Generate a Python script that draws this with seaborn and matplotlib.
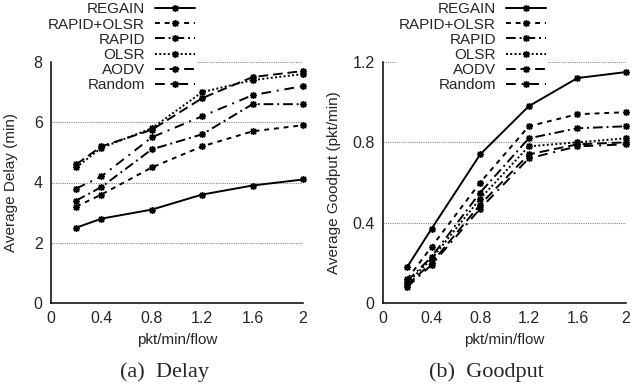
import matplotlib
matplotlib.use("Agg")
import matplotlib.pyplot as plt
import seaborn as sns
import pandas as pd

# ---- data ----
load = [0.2, 0.4, 0.8, 1.2, 1.6, 2.0]
protocols = ["REGAIN", "RAPID+OLSR", "RAPID", "OLSR", "AODV", "Random"]

delay_regain = [2.5, 2.8, 3.1, 3.6, 3.9, 4.1]
delay_rapid_olsr = [3.2, 3.6, 4.5, 5.2, 5.7, 5.9]
delay_rapid = [3.4, 3.85, 5.1, 5.6, 6.6, 6.6]
delay_olsr = [4.5, 5.15, 5.8, 7.0, 7.4, 7.6]
delay_aodv = [4.6, 5.2, 5.75, 6.8, 7.5, 7.7]
delay_random = [3.8, 4.2, 5.5, 6.2, 6.9, 7.2]

good_regain = [0.18, 0.37, 0.74, 0.98, 1.12, 1.15]
good_rapid_olsr = [0.12, 0.28, 0.60, 0.88, 0.94, 0.95]
good_rapid = [0.11, 0.23, 0.55, 0.82, 0.87, 0.88]
good_olsr = [0.10, 0.22, 0.52, 0.78, 0.80, 0.82]
good_aodv = [0.09, 0.20, 0.49, 0.74, 0.79, 0.80]
good_random = [0.08, 0.19, 0.47, 0.72, 0.78, 0.79]

x_ticks = [0, 0.4, 0.8, 1.2, 1.6, 2]
x_ticklabels = ["0", "0.4", "0.8", "1.2", "1.6", "2"]
delay_ticks = [0, 2, 4, 6, 8]
delay_ticklabels = ["0", "2", "4", "6", "8"]
good_ticks = [0, 0.4, 0.8, 1.2]
good_ticklabels = ["0", "0.4", "0.8", "1.2"]

delay_series = [delay_regain, delay_rapid_olsr, delay_rapid, delay_olsr, delay_aodv, delay_random]
good_series = [good_regain, good_rapid_olsr, good_rapid, good_olsr, good_aodv, good_random]

# ---- style ----
sns.set_style("white")
plt.rcParams["font.family"] = ["Liberation Sans", "DejaVu Sans"]
plt.rcParams["font.size"] = 11

line_styles = {
    "REGAIN": "-",
    "RAPID+OLSR": (0, (2.5, 2.5)),
    "RAPID": (0, (5, 2, 1, 2)),
    "OLSR": (0, (1, 1.2)),
    "AODV": (0, (5, 2.5)),
    "Random": (0, (5, 3, 1, 3)),
}

fig = plt.figure(figsize=(6.32, 3.87), dpi=100)
W, H = 632, 387
ax1 = fig.add_axes([51 / W, (H - 303) / H, 252 / W, 241 / H])
ax2 = fig.add_axes([383 / W, (H - 303) / H, 243 / W, 241 / H])


def draw(ax, series, yticks, yticklabels, ylim, ylabel, ylab_x, leg_anchor):
    for name, vals in zip(protocols, series):
        df = pd.DataFrame({"x": load, "y": vals})
        sns.lineplot(data=df, x="x", y="y", ax=ax, color="black", linewidth=1.4,
                     linestyle=line_styles[name], marker=(8, 2, 0), markersize=5,
                     markeredgewidth=1.0, markeredgecolor="black", label=name,
                     clip_on=False, zorder=3)
    ax.set_xlim(0, 2)
    ax.set_ylim(*ylim)
    ax.set_xticks(x_ticks)
    ax.set_xticklabels(x_ticklabels)
    ax.set_yticks(yticks)
    ax.set_yticklabels(yticklabels)
    ax.tick_params(direction="in", length=3, width=1, labelsize=11.5, pad=6, color="black")
    for s in ["top", "right"]:
        ax.spines[s].set_visible(False)
    for s in ["left", "bottom"]:
        ax.spines[s].set_linewidth(1.1)
        ax.spines[s].set_color("black")
        ax.spines[s].set_zorder(4)
    for yt in yticks[1:]:
        ax.axhline(yt, color="#888888", linestyle=(0, (1, 1)), linewidth=0.8, zorder=1)
    ax.set_xlabel("pkt/min/flow", fontsize=11)
    ax.set_ylabel(ylabel, fontsize=11)
    ax.xaxis.set_label_coords(0.5, -0.125)
    ax.yaxis.set_label_coords(ylab_x, 0.5)
    leg = ax.legend(loc="upper right", bbox_to_anchor=leg_anchor,
                    bbox_transform=fig.transFigure, markerfirst=False,
                    frameon=True, facecolor="white", edgecolor="none", framealpha=1,
                    fontsize=11, handlelength=2.6, handletextpad=0.65,
                    labelspacing=0.08, borderpad=0.15, borderaxespad=0)
    leg.set_zorder(2)


draw(ax1, delay_series, delay_ticks, delay_ticklabels, (0, 8), "Average Delay (min)",
     -0.13, (197 / W, 1.0))
draw(ax2, good_series, good_ticks, good_ticklabels, (0, 1.2), "Average Goodput (pkt/min)",
     -0.173, (548 / W, 1.0))

fig.text(164 / W, (H - 377) / H, "(a)  Delay", ha="center", va="baseline",
         fontsize=16, family=["Liberation Serif", "DejaVu Serif"])
fig.text(486 / W, (H - 377) / H, "(b)  Goodput", ha="center", va="baseline",
         fontsize=16, family=["Liberation Serif", "DejaVu Serif"])

fig.savefig("out.png", dpi=100)
